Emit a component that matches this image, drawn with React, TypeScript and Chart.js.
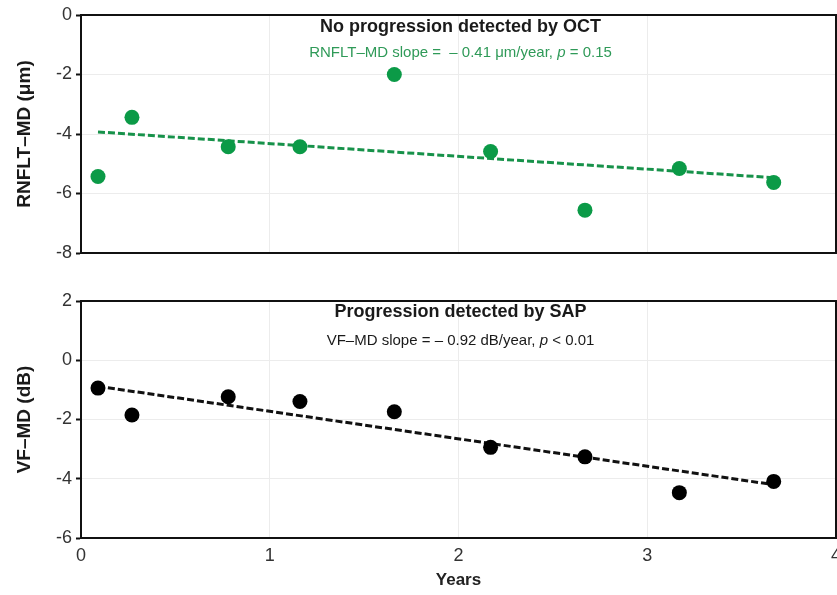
import React, { useEffect, useRef } from "react";
import { Chart, registerables } from "chart.js";

Chart.register(...registerables);

// ---- data ----
const years = [0.09, 0.27, 0.78, 1.16, 1.66, 2.17, 2.67, 3.17, 3.67];
const rnfltMd = [-5.43, -3.44, -4.43, -4.43, -2.0, -4.59, -6.56, -5.16, -5.63];
const vfMd = [-0.94, -1.85, -1.23, -1.39, -1.74, -2.94, -3.26, -4.47, -4.09];
const trendYears = [0.09, 3.67];
const rnfltTrend = [-3.93, -5.47];
const vfTrend = [-0.88, -4.2];
const xRange = [0, 4];
const rnfltRange = [-8, 0];
const vfRange = [-6, 2];

const FONT = "'Liberation Sans', Arial, sans-serif";
const GREEN = "#0b9a47";
const GREEN_LINE = "#17924a";
const GREEN_TEXT = "#2f9a58";

type Seg = { text: string; italic?: boolean };

function makeTextPlugin(title: string, sub: Seg[], subColor: string, titleY: number, subY: number) {
  return {
    id: "panelText",
    afterDatasetsDraw(chart: any) {
      const { ctx, chartArea } = chart;
      const cx = (chartArea.left + chartArea.right) / 2 + 2;
      ctx.save();
      ctx.textBaseline = "alphabetic";
      ctx.fillStyle = "#1a1a1a";
      ctx.font = `bold 18px ${FONT}`;
      ctx.textAlign = "center";
      ctx.fillText(title, cx, titleY);
      ctx.textAlign = "left";
      let total = 0;
      const widths = sub.map((s) => {
        ctx.font = `${s.italic ? "italic " : ""}15px ${FONT}`;
        const w = ctx.measureText(s.text).width;
        total += w;
        return w;
      });
      let x = cx - total / 2;
      ctx.fillStyle = subColor;
      sub.forEach((s, i) => {
        ctx.font = `${s.italic ? "italic " : ""}15px ${FONT}`;
        ctx.fillText(s.text, x, subY);
        x += widths[i];
      });
      ctx.restore();
    },
  };
}

const framePlugin = {
  id: "frame",
  afterDraw(chart: any) {
    const { ctx, chartArea } = chart;
    ctx.save();
    ctx.strokeStyle = "#111";
    ctx.lineWidth = 2;
    ctx.strokeRect(chartArea.left, chartArea.top, chartArea.right - chartArea.left, chartArea.bottom - chartArea.top);
    ctx.restore();
  },
};

function makeConfig(opts: {
  ys: number[];
  trend: number[];
  color: string;
  lineColor: string;
  yRange: number[];
  yTitle: string;
  showX: boolean;
  xHeight: number;
  padTop: number;
  textPlugin: any;
}): any {
  return {
    type: "scatter",
    data: {
      datasets: [
        {
          type: "scatter",
          data: years.map((x, i) => ({ x, y: opts.ys[i] })),
          backgroundColor: opts.color,
          borderColor: opts.color,
          borderWidth: 0,
          pointRadius: 7.5,
          pointHoverRadius: 7.5,
          order: 0,
        },
        {
          type: "line",
          data: trendYears.map((x, i) => ({ x, y: opts.trend[i] })),
          borderColor: opts.lineColor,
          borderWidth: 3,
          borderDash: [7, 3],
          pointRadius: 0,
          fill: false,
          showLine: true,
          order: 1,
        },
      ],
    },
    options: {
      animation: false,
      responsive: false,
      events: [],
      layout: { padding: { left: 8, right: 14, top: opts.padTop, bottom: 0 } },
      plugins: { legend: { display: false }, tooltip: { enabled: false }, title: { display: false } },
      scales: {
        x: {
          type: "linear",
          min: xRange[0],
          max: xRange[1],
          ticks: {
            display: opts.showX,
            stepSize: 1,
            color: "#333",
            padding: 7,
            font: { family: FONT, size: 18 },
          },
          grid: { color: "#ececec", lineWidth: 1, drawTicks: false },
          border: { color: "#111", width: 2 },
          title: {
            display: opts.showX,
            text: "Years",
            color: "#222",
            font: { family: FONT, size: 17, weight: "bold" },
            padding: { top: 0, bottom: 4 },
          },
          afterFit: (s: any) => {
            s.height = opts.xHeight;
          },
        },
        y: {
          type: "linear",
          min: opts.yRange[0],
          max: opts.yRange[1],
          ticks: {
            stepSize: 2,
            color: "#333",
            padding: 4,
            font: { family: FONT, size: 18 },
          },
          grid: { color: "#ececec", lineWidth: 1, tickLength: 5, tickColor: "#111", tickWidth: 2 },
          border: { color: "#111", width: 2 },
          title: {
            display: true,
            text: opts.yTitle,
            color: "#1a1a1a",
            font: { family: FONT, size: 19, weight: "bold" },
            padding: { top: 5, bottom: 0 },
          },
          afterFit: (s: any) => {
            s.width = 73;
          },
        },
      },
    },
    plugins: [opts.textPlugin, framePlugin],
  };
}

export default function App() {
  const topRef = useRef<HTMLCanvasElement | null>(null);
  const botRef = useRef<HTMLCanvasElement | null>(null);

  useEffect(() => {
    document.body.style.overflow = "hidden";
    const top = new Chart(
      topRef.current as HTMLCanvasElement,
      makeConfig({
        ys: rnfltMd,
        trend: rnfltTrend,
        color: GREEN,
        lineColor: GREEN_LINE,
        yRange: rnfltRange,
        yTitle: "RNFLT–MD (μm)",
        showX: false,
        xHeight: 27,
        padTop: 15,
        textPlugin: makeTextPlugin(
          "No progression detected by OCT",
          [{ text: "RNFLT–MD slope =  – 0.41 μm/year, " }, { text: "p", italic: true }, { text: " = 0.15" }],
          GREEN_TEXT,
          32,
          57
        ),
      })
    );
    const bot = new Chart(
      botRef.current as HTMLCanvasElement,
      makeConfig({
        ys: vfMd,
        trend: vfTrend,
        color: "#000",
        lineColor: "#111",
        yRange: vfRange,
        yTitle: "VF–MD (dB)",
        showX: true,
        xHeight: 57,
        padTop: 21,
        textPlugin: makeTextPlugin(
          "Progression detected by SAP",
          [{ text: "VF–MD slope = – 0.92 dB/year, " }, { text: "p", italic: true }, { text: " < 0.01" }],
          "#1a1a1a",
          36.5,
          65
        ),
      })
    );
    return () => {
      top.destroy();
      bot.destroy();
    };
  }, []);

  return (
    <div style={{ position: "fixed", left: 0, top: 0, width: 850, height: 595, background: "#fff" }}>
      <canvas ref={topRef} width={850} height={280} style={{ position: "absolute", left: 0, top: 0 }} />
      <canvas ref={botRef} width={850} height={315} style={{ position: "absolute", left: 0, top: 280 }} />
    </div>
  );
}
